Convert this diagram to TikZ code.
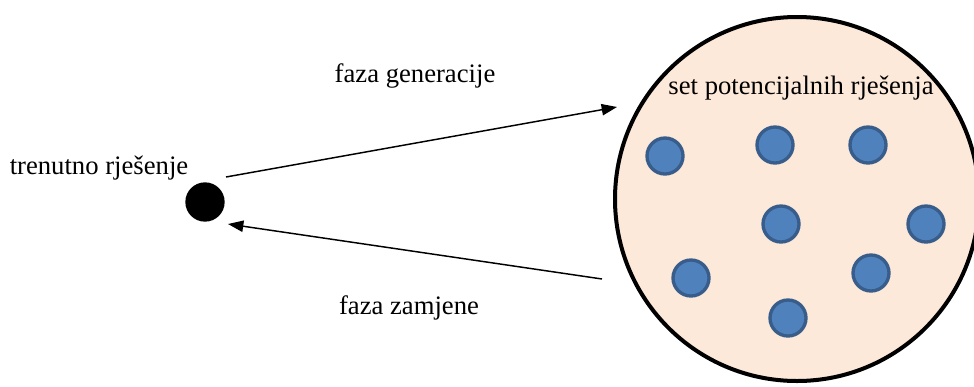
\documentclass[tikz,border=0pt]{standalone}
\usepackage{fontspec}
\setmainfont{Liberation Serif}
\usetikzlibrary{arrows.meta}
\begin{document}
\begin{tikzpicture}[x=0.75pt,y=-0.75pt,
  lbl/.style={font=\fontsize{20}{24}\selectfont, inner sep=0pt},
  sol/.style={circle, fill=solfill, draw=solline, line width=2.5pt, minimum size=27pt, inner sep=0pt},
  conn/.style={line width=1.1pt, -{Triangle[length=11.5pt,width=8.5pt]}}]
\definecolor{solfill}{HTML}{4F81BD}
\definecolor{solline}{HTML}{385D8A}
\definecolor{setfill}{HTML}{FDE9D9}
\useasboundingbox (0,0) rectangle (974,386);
\node[circle, fill=setfill, draw=black, line width=3pt, minimum size=273pt, inner sep=0pt] (set) at (797,199) {};
\node[circle, fill=black, minimum size=29.5pt, inner sep=0pt] (cur) at (205,202) {};
\node[sol] (s1) at (665,156) {};
\node[sol] (s2) at (775,145) {};
\node[sol] (s3) at (868,145) {};
\node[sol] (s4) at (781,224) {};
\node[sol] (s5) at (926,224) {};
\node[sol] (s6) at (691,278) {};
\node[sol] (s7) at (871,273) {};
\node[sol] (s8) at (788,318) {};
\node[lbl] (tset) at (801,88) {set potencijalnih rješenja};
\node[lbl] (tcur) at (99,168) {trenutno rješenje};
\node[lbl] (tgen) at (415,76) {faza generacije};
\node[lbl] (tzam) at (409,308) {faza zamjene};
\coordinate (g1) at (226,177);
\coordinate (g2) at (617,107);
\coordinate (z1) at (602,279);
\coordinate (z2) at (228,224);
\draw[conn] (g1) -- (g2);
\draw[conn] (z1) -- (z2);
\end{tikzpicture}
\end{document}
